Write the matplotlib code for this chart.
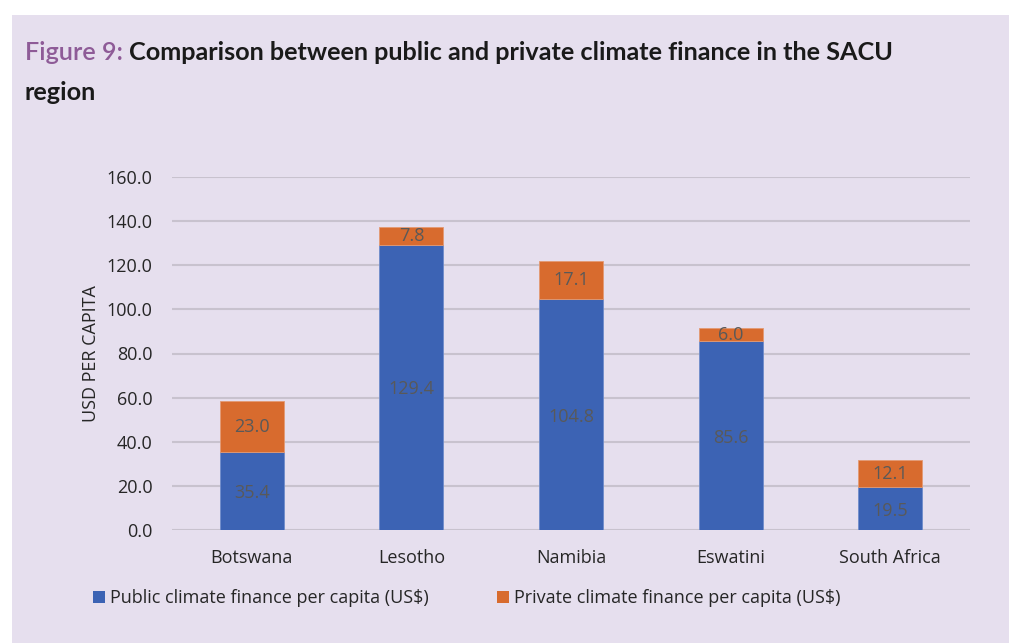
import matplotlib
matplotlib.use("Agg")
import matplotlib.pyplot as plt
from matplotlib.patches import Rectangle, Patch
import numpy as np

countries = ["Botswana", "Lesotho", "Namibia", "Eswatini", "South Africa"]
public = [35.4, 129.4, 104.8, 85.6, 19.5]
private = [23.0, 7.8, 17.1, 6.0, 12.1]
yticks = [0, 20, 40, 60, 80, 100, 120, 140, 160]
series_names = ["Public climate finance per capita (US$)", "Private climate finance per capita (US$)"]

BG = "#E6DFEE"
GRID = "#C8C2CE"
BLUE = "#3C63B4"
ORANGE = "#D86B2E"
LABEL = "#595959"
TXT = "#262626"
FS = 13

W, H = 1009, 643
fig = plt.figure(figsize=(W / 100, H / 100), dpi=100, facecolor="white")
fig.patches.append(Rectangle((12 / W, 0), 1 - 12 / W, (H - 15) / H, transform=fig.transFigure,
                             facecolor=BG, edgecolor="none", zorder=-10))

# axes: x 172..970, y 177..530 (pixels from top)
ax = fig.add_axes([172 / W, (H - 530) / H, (970 - 172) / W, (530 - 177) / H])
ax.set_facecolor("none")
x = np.arange(len(countries))
bw = 0.4
ax.bar(x, public, width=bw, color=BLUE, zorder=3, edgecolor="#6F8CCB", linewidth=0.6)
ax.bar(x, private, width=bw, bottom=public, color=ORANGE, zorder=3, edgecolor="#E39A73", linewidth=0.6)

for xi, p, q in zip(x, public, private):
    ax.text(xi, p / 2 - 1, f"{p:.1f}", ha="center", va="center", color=LABEL, fontsize=FS,
            family="Open Sans", zorder=4)
    ax.text(xi, p + q / 2, f"{q:.1f}", ha="center", va="center", color=LABEL, fontsize=FS,
            family="Open Sans", zorder=4)

ax.set_xlim(-0.5, len(countries) - 0.5)
ax.set_ylim(0, 160)
ax.set_yticks(yticks)
ax.set_yticklabels([f"{v:.1f}" for v in yticks], family="Open Sans", fontsize=FS, color=TXT)
ax.set_xticks(x)
ax.set_xticklabels(countries, family="Open Sans", fontsize=FS, color=TXT)
ax.tick_params(axis="both", length=0)
ax.tick_params(axis="y", pad=14)
ax.tick_params(axis="x", pad=14)
for s in ax.spines.values():
    s.set_visible(False)
ax.grid(axis="y", color=GRID, linewidth=1.5, zorder=0)
ax.set_axisbelow(True)
ax.set_ylabel("USD PER CAPITA", family="Open Sans", fontsize=FS, color=TXT)
ax.yaxis.set_label_coords(-0.09, 0.5)

# legend
handles = [Patch(facecolor=BLUE), Patch(facecolor=ORANGE)]
fig.legend(handles, series_names, loc="center left", bbox_to_anchor=(77 / W, (H - 598) / H),
           ncol=2, frameon=False, handlelength=0.65, handleheight=0.65, handletextpad=0.3,
           columnspacing=3.75, prop={"family": "Open Sans", "size": FS})
for t in fig.legends[0].get_texts():
    t.set_color(TXT)

# title
TFS = 18.2
fig.text(25 / W, (H - 52) / H, "Figure 9: ", color="#8E5B97", fontsize=TFS, family="Lato",
         fontweight="semibold", va="center", ha="left")
t1 = fig.text(25 / W, (H - 52) / H, "Figure 9: ", color="none", fontsize=TFS, family="Lato",
              fontweight="semibold", va="center", ha="left")
fig.canvas.draw()
bb = t1.get_window_extent()
fig.text(bb.x1 / W, (H - 52) / H, "Comparison between public and private climate finance in the SACU",
         color="#1A1A1A", fontsize=TFS, family="Lato", fontweight="bold", va="center", ha="left")
fig.text(25 / W, (H - 92) / H, "region", color="#1A1A1A", fontsize=TFS, family="Lato",
         fontweight="bold", va="center", ha="left")

fig.savefig("out.png", dpi=100, facecolor="white")
